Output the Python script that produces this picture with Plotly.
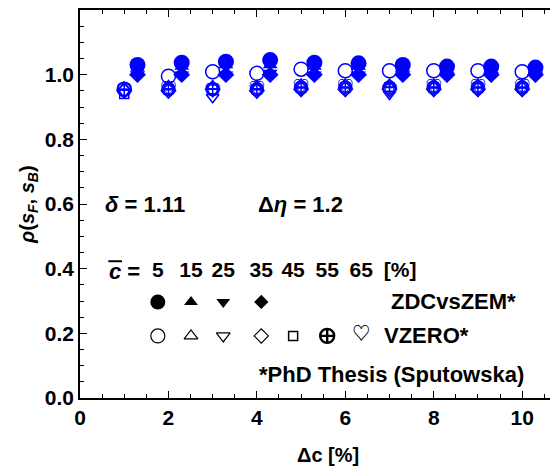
import plotly.graph_objects as go

# ---------------- data ----------------
dc = [1, 2, 3, 4, 5, 6, 7, 8, 9, 10]
zdc_offset = 0.3

# VZERO (open symbols), centralities 5..65 %
v05 = [0.955, 0.995, 1.009, 1.004, 1.017, 1.012, 1.012, 1.012, 1.012, 1.009]
v15 = [0.960, 0.965, 0.965, 0.965, 0.970, 0.970, 0.970, 0.970, 0.970, 0.970]
v25 = [0.945, 0.945, 0.930, 0.945, 0.950, 0.950, 0.940, 0.950, 0.950, 0.950]
v35 = [0.950, 0.950, 0.955, 0.950, 0.955, 0.955, 0.955, 0.955, 0.955, 0.955]
v45 = [0.940, 0.955, 0.955, 0.955, 0.960, 0.960, 0.960, 0.960, 0.960, 0.960]
v55 = [0.955, 0.955, 0.955, 0.955, 0.960, 0.960, 0.960, 0.960, 0.960, 0.960]
v65 = [0.945, 0.950, 0.945, 0.950, 0.955, 0.955, 0.945, 0.955, 0.955, 0.955]

# ZDCvsZEM (filled symbols), centralities 5..35 %
z05 = [1.030, 1.037, 1.040, 1.045, 1.037, 1.035, 1.030, 1.025, 1.025, 1.022]
z15 = [1.020, 1.025, 1.030, 1.030, 1.025, 1.025, 1.020, 1.015, 1.015, 1.015]
z25 = [1.000, 1.000, 1.000, 1.005, 1.000, 1.000, 1.000, 0.995, 0.995, 0.995]
z35 = [1.000, 1.000, 1.000, 1.000, 1.000, 1.000, 1.000, 1.000, 1.000, 1.000]

centralities = ["5", "15", "25", "35", "45", "55", "65"]

# legend-glyph positions (data coords)
leg_x = [1.76, 2.51, 3.24, 4.10, 4.82, 5.59, 6.36]
leg_y_cent = 0.39
leg_y_zdc = 0.297
leg_y_v0 = 0.192

BLUE = "#0000ff"
FONT = "Liberation Sans, Arial, Helvetica, sans-serif"
HEART_FONT = "Noto Sans CJK JP, DejaVu Sans"
TICK = 21
TXT = 22

fig = go.Figure()

# VZERO open markers
vz_series = [(v05, "circle-open", 14), (v15, "triangle-up-open", 11),
             (v25, "triangle-down-open", 11), (v35, "diamond-open", 11),
             (v45, "square-open", 9), (v55, "circle-cross-open", 13)]
for vals, sym, sz in vz_series:
    fig.add_trace(go.Scatter(x=dc, y=vals, mode="markers",
                             marker=dict(symbol=sym, size=sz, color=BLUE,
                                         line=dict(color=BLUE, width=1.5)),
                             showlegend=False))
fig.add_trace(go.Scatter(x=dc, y=v65, mode="text", text=["♡"] * len(dc),
                         textfont=dict(family=HEART_FONT, size=17, color=BLUE, weight="bold"),
                         textposition="middle center", showlegend=False))

# ZDC filled markers
zx = [d + zdc_offset for d in dc]
for vals, sym, sz in [(z05, "circle", 16), (z15, "triangle-up", 13),
                      (z25, "triangle-down", 13), (z35, "diamond", 13)]:
    fig.add_trace(go.Scatter(x=zx, y=vals, mode="markers",
                             marker=dict(symbol=sym, size=sz, color=BLUE,
                                         line=dict(width=0)),
                             showlegend=False))

# legend glyphs (black)
for xx, sym, sz in zip(leg_x[:4], ["circle", "triangle-up", "triangle-down", "diamond"],
                       [15, 12, 12, 11]):
    fig.add_trace(go.Scatter(x=[xx], y=[leg_y_zdc], mode="markers",
                             marker=dict(symbol=sym, size=sz, color="black", line=dict(width=0)),
                             showlegend=False))
for xx, sym, sz, lw in zip(leg_x[:6],
                           ["circle-open", "triangle-up-open", "triangle-down-open",
                            "diamond-open", "square-open", "circle-cross-open"],
                           [14, 12, 12, 11, 9, 14], [1.2, 1.2, 1.2, 1.2, 1.5, 2.4]):
    fig.add_trace(go.Scatter(x=[xx], y=[leg_y_v0], mode="markers",
                             marker=dict(symbol=sym, size=sz, color="black",
                                         line=dict(color="black", width=lw)),
                             showlegend=False))
fig.add_trace(go.Scatter(x=[leg_x[6]], y=[leg_y_v0], mode="text", text=["♡"],
                         textfont=dict(family=HEART_FONT, size=18, color="black", weight="bold"),
                         textposition="middle center", showlegend=False))

# centrality row text
fig.add_trace(go.Scatter(x=leg_x + [7.24], y=[leg_y_cent] * 8, mode="text",
                         text=centralities + ["[%]"],
                         textfont=dict(family=FONT, size=TICK, color="black", weight="bold"),
                         textposition="middle center", showlegend=False))

ann_font = dict(family=FONT, size=TXT, color="black", weight="bold")
anns = [
    dict(x=0.52, y=0.597, text="<i>δ</i> = 1.11", xanchor="left"),
    dict(x=3.98, y=0.597, text="Δ<i>η</i> = 1.2", xanchor="left"),
    dict(x=0.60, y=leg_y_cent, text="<i>c</i> =", xanchor="left"),
    dict(x=6.98, y=leg_y_zdc, text="ZDCvsZEM*", xanchor="left"),
    dict(x=6.84, y=leg_y_v0, text="VZERO*", xanchor="left"),
    dict(x=4.0, y=0.074, text="*PhD Thesis (Sputowska)", xanchor="left"),
]
for a in anns:
    fig.add_annotation(xref="x", yref="y", showarrow=False, yanchor="middle",
                       font=ann_font, **a)
# overline of c-bar
fig.add_shape(type="line", xref="x", yref="y", x0=0.64, x1=0.95, y0=0.423, y1=0.423,
              line=dict(color="black", width=2))

# axis titles
fig.add_annotation(xref="paper", yref="paper", x=0.518, y=-0.147, yanchor="middle",
                   text="Δc [%]", showarrow=False,
                   font=dict(family=FONT, size=20, color="black", weight="bold"))
fig.add_annotation(xref="paper", yref="paper", x=-0.109, y=0.5, xanchor="center",
                   text="<i>ρ</i>(<i>s</i><sub><i>F</i></sub>, <i>s</i><sub><i>B</i></sub>)",
                   textangle=-90, showarrow=False,
                   font=dict(family=FONT, size=20, color="black", weight="bold"))

fig.update_layout(
    width=550, height=465,
    margin=dict(l=72, r=0, t=2, b=75),
    paper_bgcolor="white", plot_bgcolor="white",
    xaxis=dict(range=[0, 10.81], showgrid=False, zeroline=False,
               showline=True, linecolor="black", linewidth=1.5, mirror="allticks",
               ticks="inside", ticklen=7, tickwidth=1.2, tickcolor="black",
               tickvals=[0, 2, 4, 6, 8, 10],
               minor=dict(dtick=0.5, ticks="inside", ticklen=4, tickwidth=1, tickcolor="black"),
               tickfont=dict(family=FONT, size=TICK, color="black", weight="bold")),
    yaxis=dict(range=[0, 1.2], showgrid=False, zeroline=False,
               showline=True, linecolor="black", linewidth=1.5,
               ticks="inside", ticklen=7, tickwidth=1.2, tickcolor="black",
               tickvals=[0, 0.2, 0.4, 0.6, 0.8, 1.0, 1.2], tickformat=".1f",
               minor=dict(dtick=0.05, ticks="inside", ticklen=4, tickwidth=1, tickcolor="black"),
               tickfont=dict(family=FONT, size=TICK, color="black", weight="bold")),
)

fig.write_html("out.html")
